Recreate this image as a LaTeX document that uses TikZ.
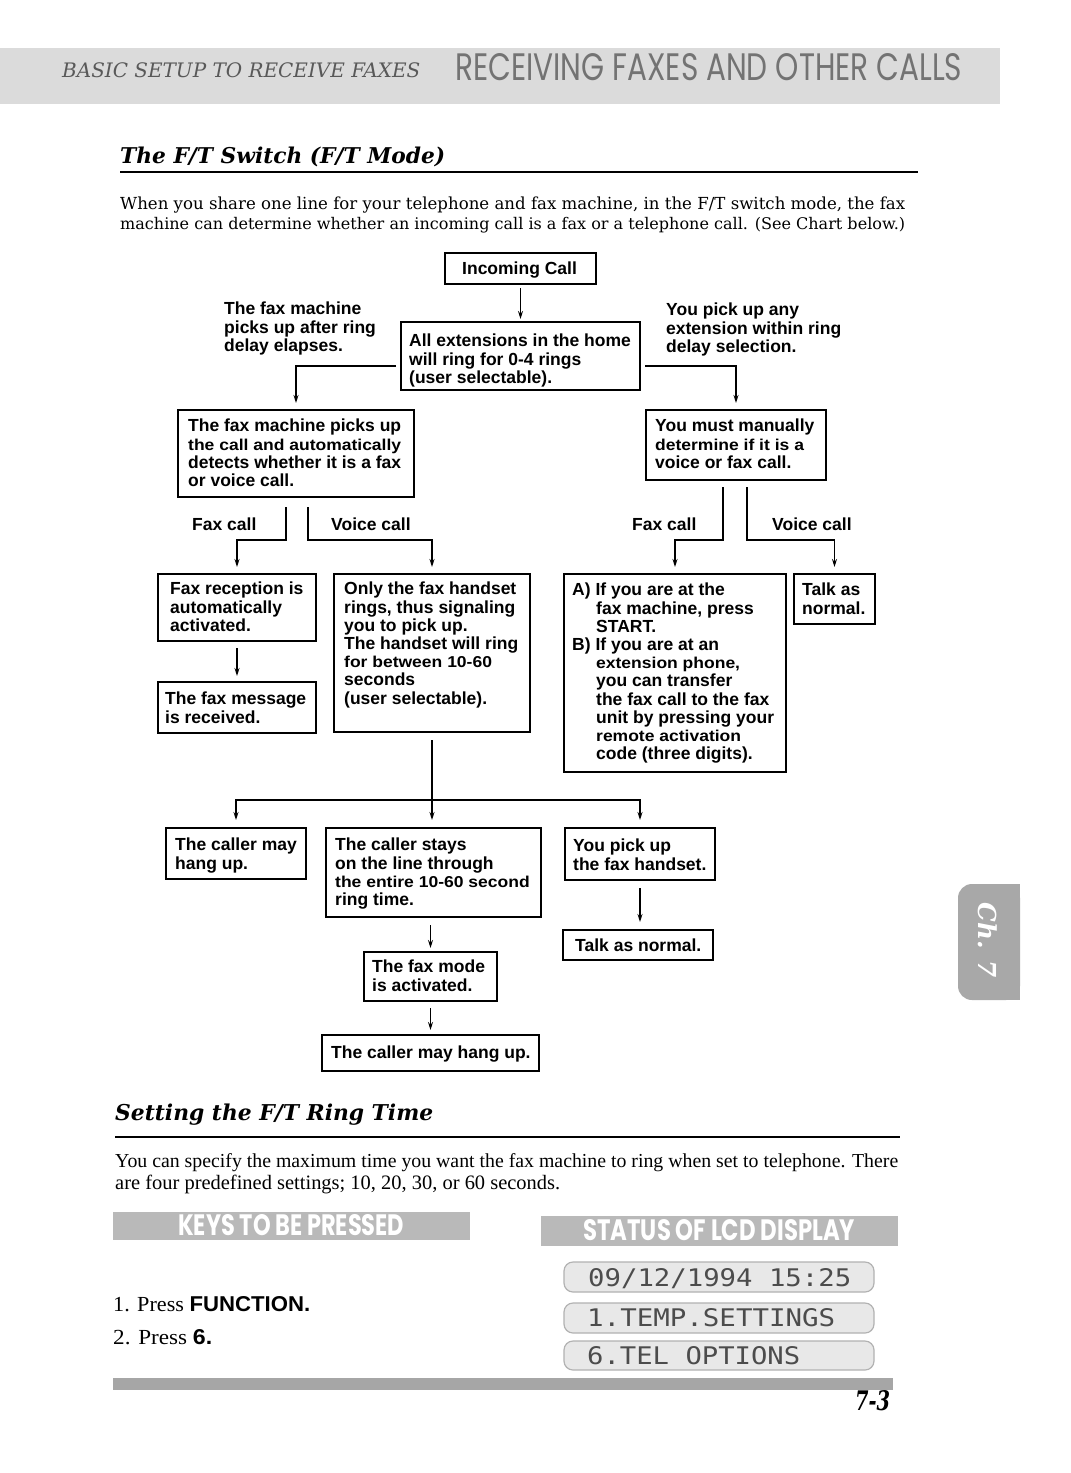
\documentclass[tikz,border=0pt]{standalone}
\usepackage{fontspec}
\usepackage{graphicx}
\usetikzlibrary{arrows.meta}
\newfontfamily\hv{Liberation Sans}
\newfontfamily\dvs{DejaVu Serif}
\newfontfamily\lser{Liberation Serif}
\newfontfamily\pop{Poppins}
\newfontfamily\dmono{DejaVu Sans Mono}
\newcommand\bxf{\hv\bfseries\fontsize{17.5}{18.2}\selectfont}
\newcommand\smline[1]{\scalebox{1}[0.9]{#1}}
\newcommand\bx[8]{%
  \node[box, minimum width={(#4-#2)*1pt}, minimum height={(#5-#3)*1pt}, anchor=north west] (#1) at (#2,#3) {};
  \node[txt] (#1t) at (#6,#7) {#8};}
\begin{document}
\begin{tikzpicture}[x=1pt,y=-1pt,
  box/.style={draw, line width=1.8pt, inner sep=0pt, outer sep=0pt},
  txt/.style={anchor=north west, inner sep=0pt, align=left, font=\bxf},
  arr/.style={line width=1.3pt, -{Stealth[length=8pt,width=5pt]}},
  lcd/.style={draw=gray!60, fill=gray!18, line width=1.2pt, rounded corners=9pt},
  bar/.style={fill=gray!55, draw=none},
  plain/.style={anchor=base west, inner sep=0pt}]
\useasboundingbox (0,0) rectangle (1071,1473);
\fill[white] (0,0) rectangle (1071,1473);

% ---------- header band
\fill[gray!28] (0,48) rectangle (1000,104);
\node[plain, text=black!65] (hdrA) at (62,77) {\resizebox{358pt}{!}{\dvs\itshape BASIC SETUP TO RECEIVE FAXES}};
\node[plain, text=black!55] (hdrB) at (455,80) {\resizebox{507pt}{27pt}{\pop RECEIVING FAXES AND OTHER CALLS}};

% ---------- section 1
\node[plain] (title1) at (120,163) {\resizebox{325pt}{!}{\dvs\bfseries\itshape The F/T Switch (F/T Mode)}};
\draw[line width=2pt] (120,172) -- (918,172);
\node[plain] (p1a) at (120,209) {\resizebox{785pt}{!}{\dvs When you share one line for your telephone and fax machine, in the F/T switch mode, the fax}};
\node[plain] (p1b) at (120,229) {\resizebox{785pt}{!}{\dvs machine can determine whether an incoming call is a fax or a telephone call. (See Chart below.)}};

% ---------- flowchart boxes
\bx{inc}{445}{253}{596}{284}{462}{262}{Incoming Call}
\bx{allext}{401}{322}{640}{390}{409}{334}{All extensions in the home\\will ring for 0-4 rings\\(user selectable).}
\bx{fxpick}{178}{410}{414}{497}{188}{419}{The fax machine picks up\\\smline{the call and automatically}\\detects whether it is a fax\\or voice call.}
\bx{manual}{646}{410}{826}{480}{655}{419}{You must manually\\\smline{determine if it is a}\\voice or fax call.}
\bx{faxrec}{158}{574}{316}{641}{170}{582}{Fax reception is\\automatically\\activated.}
\bx{faxmsg}{158}{682}{316}{733}{165}{692}{The fax message\\is received.}
\bx{onlyfax}{334}{574}{530}{732}{344}{582}{Only the fax handset\\rings, thus signaling\\you to pick up.\\The handset will ring\\\smline{for between 10-60}\\seconds\\(user selectable).}
\bx{ab}{564}{574}{786}{772}{572}{583}{A) If you are at the\\
\hspace*{24pt}fax machine, press\\
\hspace*{24pt}START.\\
B) If you are at an\\
\hspace*{24pt}\smline{extension phone,}\\
\hspace*{24pt}you can transfer\\
\hspace*{24pt}the fax call to the fax\\
\hspace*{24pt}unit by pressing your\\
\hspace*{24pt}\smline{remote activation}\\
\hspace*{24pt}code (three digits).}
\bx{talkas}{794}{574}{875}{624}{802}{583}{Talk as\\normal.}
\bx{callermay}{166}{828}{306}{879}{175}{838}{The caller may\\hang up.}
\bx{stays}{326}{828}{541}{917}{335}{838}{The caller stays\\on the line through\\\smline{the entire 10-60 second}\\ring time.}
\bx{youpick}{565}{828}{715}{880}{573}{839}{You pick up\\the fax handset.}
\bx{talknorm}{563}{930}{713}{960}{575}{939}{Talk as normal.}
\bx{faxmode}{364}{952}{497}{1001}{372}{960}{The fax mode\\is activated.}
\bx{hang2}{322}{1035}{539}{1071}{331}{1046}{The caller may hang up.}

% ---------- labels
\node[txt] (lblL) at (224,302) {The fax machine\\picks up after ring\\delay elapses.};
\node[txt] (lblR) at (666,303) {You pick up any\\extension within ring\\delay selection.};
\node[txt] (fc1) at (192,518) {Fax call};
\node[txt] (vc1) at (331,518) {Voice call};
\node[txt] (fc2) at (632,518) {Fax call};
\node[txt] (vc2) at (772,518) {Voice call};

% ---------- connectors
\draw[arr, shorten <=4pt, shorten >=3pt] (inc) -- (allext);
\draw[arr, shorten >=7pt] ([yshift=-10pt,xshift=-5pt]allext.west) -| (fxpick.north);
\draw[arr, shorten >=7pt] ([yshift=-10pt,xshift=5pt]allext.east) -| (manual.north);
\draw[arr, shorten >=7pt] ([xshift=-10pt,yshift=-10pt]fxpick.south) |- ([yshift=34pt]faxrec.north) -- (faxrec.north);
\draw[arr, shorten >=7pt] ([xshift=12pt,yshift=-10pt]fxpick.south) |- ([yshift=34pt]onlyfax.north) -- (onlyfax.north);
\draw[arr, shorten >=7pt] ([xshift=-13pt,yshift=-7pt]manual.south) |- ([yshift=34pt]ab.north) -- (ab.north);
\draw[arr, shorten >=7pt] ([xshift=11pt,yshift=-7pt]manual.south) |- ([yshift=34pt]talkas.north) -- (talkas.north);
\draw[arr, shorten <=7pt, shorten >=6pt] (faxrec) -- (faxmsg);
\coordinate (split) at (432,800);
\draw[arr, shorten <=8pt, shorten >=8pt] (onlyfax.south) -- (onlyfax.south |- stays.north);
\draw[arr, shorten >=8pt] (split) -| (callermay.north);
\draw[arr, shorten >=8pt] (split) -| (youpick.north);
\draw[arr, shorten <=8pt, shorten >=8pt] (youpick.south) -- (youpick.south |- talknorm.north);
\draw[arr, shorten <=8pt, shorten >=4pt] (stays.south -| faxmode.north) -- (faxmode.north);
\draw[arr, shorten <=7pt, shorten >=5pt] (faxmode) -- (hang2);

% ---------- section 2
\node[plain] (title2) at (115,1120) {\resizebox{318pt}{!}{\dvs\bfseries\itshape Setting the F/T Ring Time}};
\draw[line width=2pt] (115,1137) -- (900,1137);
\node[plain] (p2a) at (115,1167) {\resizebox{783pt}{!}{\lser You can specify the maximum time you want the fax machine to ring when set to telephone. There}};
\node[plain] (p2b) at (115,1189) {\resizebox{445pt}{!}{\lser are four predefined settings; 10, 20, 30, or 60 seconds.}};

\fill[bar] (113,1212) rectangle (470,1240);
\node[plain, text=white] (keys) at (178,1235) {\resizebox{226pt}{21pt}{\pop\bfseries KEYS TO BE PRESSED}};
\fill[bar] (541,1216) rectangle (898,1246);
\node[plain, text=white] (status) at (583,1240) {\resizebox{272pt}{21pt}{\pop\bfseries STATUS OF LCD DISPLAY}};

\draw[lcd] (564,1262) rectangle (874,1292);
\draw[lcd] (564,1303) rectangle (874,1333);
\draw[lcd] (564,1341) rectangle (874,1370);
\node[plain, text=black!70] (lcd1) at (588,1286) {\resizebox{263pt}{18pt}{\dmono 09/12/1994 15:25}};
\node[plain, text=black!70] (lcd2) at (587,1326) {\resizebox{248pt}{18pt}{\dmono 1.TEMP.SETTINGS}};
\node[plain, text=black!70] (lcd3) at (587,1364) {\resizebox{213pt}{18pt}{\dmono 6.TEL OPTIONS}};

\node[plain] (step1) at (113,1311) {\resizebox{197pt}{15pt}{\lser 1. Press {\hv\bfseries FUNCTION.}}};
\node[plain] (step2) at (113,1344) {\resizebox{99pt}{15pt}{\lser 2. Press {\hv\bfseries 6.}}};

\fill[gray!70] (113,1378) rectangle (893,1390);
\node[plain] (pg) at (855,1410) {\resizebox{35pt}{20pt}{\dvs\bfseries\itshape 7-3}};

% ---------- chapter tab
\fill[gray!68, rounded corners=14pt] (958,884) rectangle (1020,1000);
\fill[gray!68] (990,884) rectangle (1020,1000);
\node[rotate=-90, text=white, inner sep=0pt] (tab) at (988,940) {\resizebox{75pt}{!}{\dvs\bfseries\itshape Ch. 7}};
\end{tikzpicture}
\end{document}
